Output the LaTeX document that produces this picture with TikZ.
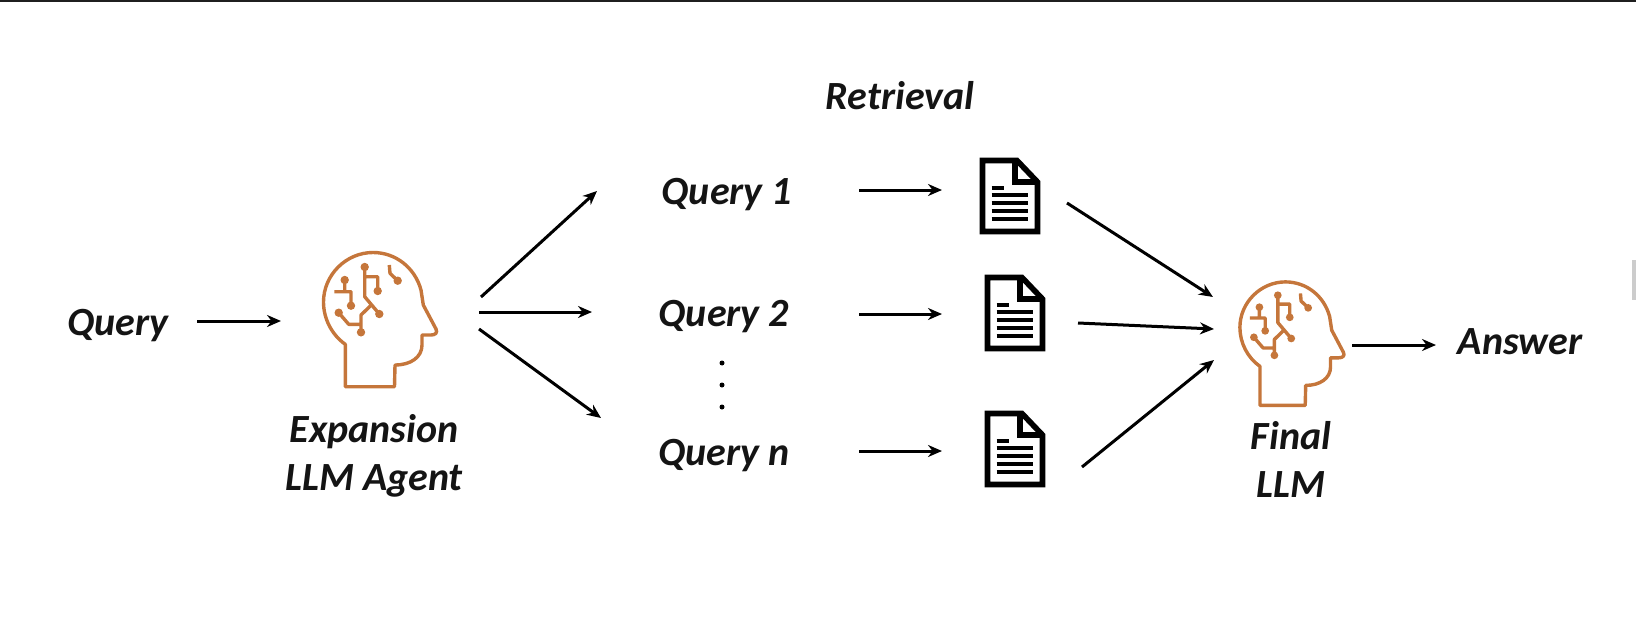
\documentclass[tikz,border=0pt]{standalone}
\usepackage{fontspec}
\setmainfont{Carlito}
\usetikzlibrary{arrows.meta}
\definecolor{brainclr}{HTML}{C5763B}
\tikzset{
  lbl/.style={font=\fontsize{40}{48}\selectfont\bfseries\itshape,text=black!92,align=center,inner sep=0},
  iconbox/.style={inner sep=0,minimum width=#1},
  arr/.style={-{Stealth[length=14pt,width=12pt]},line width=3pt},
  headicon/.pic={
    \draw[brainclr,line width=3.4pt,line join=round]
      (29.3,141.7) -- (29.3,99.3) .. controls (16,90) and (7.5,74) .. (7.5,57)
      .. controls (7.5,30) and (30,7.5) .. (57,7.5)
      .. controls (80,7.5) and (99,23) .. (105,45) -- (107.3,60) -- (120,84)
      .. controls (122,88) and (119,90) .. (115,90) -- (106,90) -- (106,100)
      .. controls (106,112) and (95,120) .. (79,120) -- (78.5,141.7) -- cycle;
    \draw[brainclr,line width=3.4pt,line join=round]
      (48.7,22) -- (48.7,51.7) -- (63.3,69)
      (48.7,31.7) -- (61.7,31.7) -- (61.7,46)
      (28.7,35) -- (28.7,46.7)
      (18.3,46.7) -- (35,46.7) -- (35,60.7)
      (22.7,67.7) -- (32.7,79.3) -- (45,79.3)
      (45,87.3) -- (45,70) -- (54.3,61)
      (73.3,20) -- (74,28.3) -- (81.7,35.7);
    \foreach \px/\py in {48.7/22,63.3/69,61.7/46,28.7/35,35/60.7,22.7/67.7,45/87.3,81.7/35.7}
      \fill[brainclr] (\px,\py) circle (4.2pt);
  },
  docicon/.pic={
    \draw[black,line width=5.6pt,line join=miter]
      (2.5,2.5) -- (37,2.5) -- (57.5,24) -- (57.5,73.5) -- (2.5,73.5) -- cycle
      (35,2.5) -- (35,24) -- (57.5,24);
    \draw[black,line width=3.8pt]
      (11.7,29.7) -- (24.3,29.7);
    \foreach \ly in {37.3,45.3,53,61.3}
      \draw[black,line width=3.8pt] (11.7,\ly) -- (48,\ly);
  }
}
\begin{document}
\begin{tikzpicture}[x=1pt,y=-1pt]
  \useasboundingbox (0,0) rectangle (1636,634);
  \fill[black!88] (0,0) rectangle (1636,2);
  \fill[black!20] (1632,260) rectangle (1636,300);

  \node[lbl] (query) at (118,326) {Query};
  \node[iconbox=114pt] (head1) at (379,321) {};
  \node[lbl] (expansion) at (374,456) {Expansion\\LLM Agent};
  \node[lbl] (retrieval) at (900,96) {Retrieval};
  \node[lbl] (q1) at (727,195) {Query 1};
  \node[lbl] (q2) at (724,317) {Query 2};
  \node[lbl] (qn) at (724,456) {Query n};
  \node[iconbox=60pt] (doc1) at (1010,195) {};
  \node[iconbox=60pt] (doc2) at (1014,313) {};
  \node[iconbox=60pt] (doc3) at (1015,449) {};
  \node[iconbox=104pt] (head2) at (1290,343) {};
  \node[lbl] (final) at (1291,459) {Final\\LLM};
  \node[lbl] (answer) at (1520,342) {Answer};

  \pic at (316,245) {headicon};
  \pic[scale=.92] at (1233,275) {headicon};
  \pic at (980,158) {docicon};
  \pic at (985,275) {docicon};
  \pic at (985,411) {docicon};

  \foreach \dy in {363,385,407}
    \fill[black] (722,\dy) circle (2.5pt);

  \draw[arr] ([shift={(79,-5)}]query.center) -- ([shift={(-98,0)}]head1.center);
  \draw[arr] ([shift={(102,-24)}]head1.center) -- ([shift={(-130,-4)}]q1.center);
  \draw[arr] ([shift={(100,-9)}]head1.center) -- ([shift={(-132,-5)}]q2.center);
  \draw[arr] ([shift={(100,8)}]head1.center) -- ([shift={(-123,-38)}]qn.center);
  \draw[arr] ([shift={(132,-5)}]q1.center) -- ([shift={(-68,-5)}]doc1.center);
  \draw[arr] ([shift={(135,-3)}]q2.center) -- ([shift={(-72,1)}]doc2.center);
  \draw[arr] ([shift={(135,-5)}]qn.center) -- ([shift={(-73,2)}]doc3.center);
  \draw[arr] ([shift={(57,8)}]doc1.center) -- ([shift={(-77,-46)}]head2.center);
  \draw[arr] ([shift={(64,10)}]doc2.center) -- ([shift={(-76,-14)}]head2.center);
  \draw[arr] ([shift={(67,18)}]doc3.center) -- ([shift={(-76,17)}]head2.center);
  \draw[arr] ([shift={(62,2)}]head2.center) -- ([shift={(-84,3)}]answer.center);
\end{tikzpicture}
\end{document}
